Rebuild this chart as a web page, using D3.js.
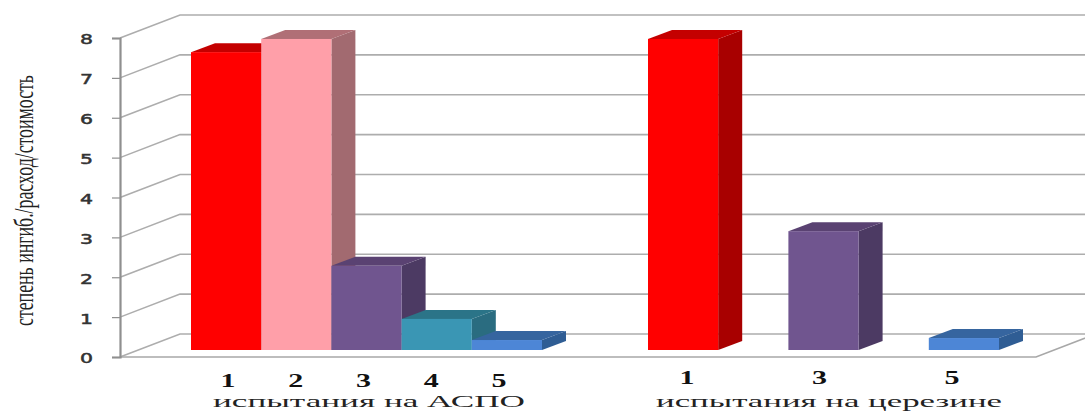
<!DOCTYPE html>
<html lang="ru">
<head>
<meta charset="utf-8">
<script src="https://cdn.jsdelivr.net/npm/d3@7/dist/d3.min.js"></script>
<style>
  html, body { margin: 0; padding: 0; background: #fff; }
  svg { display: block; }
</style>
</head>
<body>
<svg id="chart" width="1085" height="412"></svg>
<script>
// Values per test series; null marks a composition that was not tested
const groups = ["испытания на АСПО", "испытания на церезине"];
const slots = ["1", "2", "3", "4", "5"];
const asphaltValues = [7.47, 7.8, 2.11, 0.78, 0.25];
const ceresinValues = [7.8, null, 2.98, null, 0.3];
const yTicks = [0, 1, 2, 3, 4, 5, 6, 7, 8];
const yTitle = "степень ингиб./расход/стоимость";

// Face colours of each composition: front, top, side
const frontColours = ["#ff0000", "#ff9fa9", "#70558f", "#3a96b4", "#4d86d6"];
const topColours = ["#c40000", "#b06f76", "#5a4272", "#2b7488", "#36659f"];
const sideColours = ["#a80000", "#a26a70", "#4c3a63", "#2a6c80", "#2f5d94"];

const seriesByGroup = [asphaltValues, ceresinValues];

const svg = d3.select("#chart");

const plot = { left: 120, right: 1034, top: 38, bottom: 357 };
const wall = { dx: 60, dy: -23 };         // offset of the back wall
const barShift = { dx: 18, dy: -7 };      // where bars stand on the floor
const barDepth = { dx: 24, dy: -9 };      // extrusion of each bar
const gridColour = "#adadad";
const axisColour = "#8f8f8f";

const y = d3.scaleLinear().domain([0, 8]).range([plot.bottom, plot.top]);
const x0 = d3.scaleBand().domain(groups).range([plot.left, plot.right]);
const x1 = d3.scaleBand().domain(slots).range([0, x0.bandwidth()]).paddingOuter(0.755);

// Number labels sit on their own, tighter spacing under each group of bars
const labelRanges = [[228, 499], [687, 952]];
const labelBaselines = [387, 384];
const labelScales = labelRanges.map(r => d3.scalePoint().domain(slots).range(r));

const points = pts => pts.map(p => p.join(",")).join(" ");
const rightEdge = 1085;

// Walls: side-wall diagonals and back-wall gridlines
const grid = svg.append("g").attr("fill", "none").attr("stroke", gridColour).attr("stroke-width", 1.6);
yTicks.forEach(t => {
  const yy = y(t);
  grid.append("polyline").attr("points", points([
    [plot.left, yy],
    [plot.left + wall.dx, yy + wall.dy],
    [rightEdge, yy + wall.dy]
  ]));
});

// Floor edges
grid.append("polyline")
  .attr("stroke", "#a8a8a8")
  .attr("points", points([
    [plot.left, plot.bottom],
    [plot.right + 2, plot.bottom],
    [plot.right + 2 + wall.dx, plot.bottom + wall.dy]
  ]));

// Value axis
const axis = d3.axisLeft(y).tickValues(yTicks).tickSize(8).tickPadding(19).tickFormat(d3.format("d"));
const axisG = svg.append("g").attr("transform", `translate(${plot.left},0)`).call(axis);
axisG.select(".domain").attr("stroke", axisColour).attr("stroke-width", 2.2);
axisG.selectAll(".tick line").attr("stroke", axisColour).attr("stroke-width", 1.2);
axisG.selectAll(".tick text")
  .attr("font-family", "DejaVu Sans")
  .attr("font-size", 14)
  .attr("fill", "#333")
  .attr("stroke", "#333")
  .attr("stroke-width", 0.5)
  .attr("dy", "0.42em")
  .attr("textLength", 13)
  .attr("lengthAdjust", "spacingAndGlyphs");

// Extruded bars, drawn left to right so each one overlaps its neighbour's side
groups.forEach((g, gi) => {
  const layer = svg.append("g").attr("class", "group");
  slots.forEach((s, si) => {
    const v = seriesByGroup[gi][si];
    if (v === null) return;
    const xa = x0(g) + x1(s) + barShift.dx - (x1.step() - x1.bandwidth()) / 2;
    const xb = xa + x1.step();
    const yt = y(v) + barShift.dy;
    const yb = y(0) + barShift.dy;
    const d = barDepth;
    layer.append("polygon").attr("fill", sideColours[si]).attr("points", points([
      [xb, yt], [xb + d.dx, yt + d.dy], [xb + d.dx, yb + d.dy], [xb, yb]
    ]));
    layer.append("polygon").attr("fill", topColours[si]).attr("points", points([
      [xa, yt], [xa + d.dx, yt + d.dy], [xb + d.dx, yt + d.dy], [xb, yt]
    ]));
    layer.append("rect").attr("fill", frontColours[si])
      .attr("x", xa).attr("y", yt).attr("width", xb - xa).attr("height", yb - yt);
  });
});

// Composition numbers below the bars
const slotLabels = svg.append("g")
  .attr("font-family", "Liberation Serif")
  .attr("font-weight", "bold")
  .attr("font-size", 19)
  .attr("fill", "#111")
  .attr("text-anchor", "middle");
groups.forEach((g, gi) => {
  slots.forEach((s, si) => {
    if (seriesByGroup[gi][si] === null) return;
    slotLabels.append("text")
      .attr("x", labelScales[gi](s)).attr("y", labelBaselines[gi])
      .attr("textLength", 15).attr("lengthAdjust", "spacingAndGlyphs")
      .text(s);
  });
});

// Group captions
const captionCentres = [369, 829];
const captionWidths = [312, 346];
svg.append("g").selectAll("text").data(groups).join("text")
  .attr("x", (d, i) => captionCentres[i])
  .attr("y", 407)
  .attr("text-anchor", "middle")
  .attr("font-family", "Liberation Serif")
  .attr("font-size", 17)
  .attr("fill", "#222")
  .attr("textLength", (d, i) => captionWidths[i])
  .attr("lengthAdjust", "spacingAndGlyphs")
  .text(d => d);

// Value axis title, tall and condensed
svg.append("text")
  .attr("transform", "translate(33,326) rotate(-90)")
  .attr("font-family", "Liberation Serif")
  .attr("font-size", 27)
  .attr("fill", "#222")
  .attr("textLength", 251)
  .attr("lengthAdjust", "spacingAndGlyphs")
  .text(yTitle);
</script>
</body>
</html>
